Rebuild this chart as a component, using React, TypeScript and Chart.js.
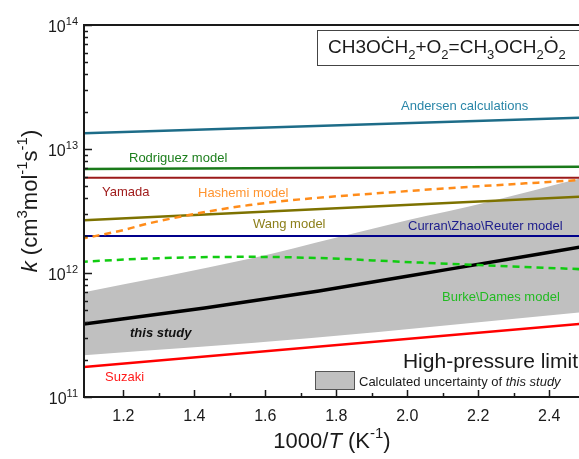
import React, { useEffect, useRef } from "react";
import { Chart, registerables } from "chart.js";
Chart.register(...registerables);

const FAMILY = '"Liberation Sans", Arial, Helvetica, sans-serif';

const X_MIN = 1.089;
const X_MAX = 2.484;
const Y_MIN = 1e11;
const Y_MAX = 1e14;

const xMajorTicks = [1.2, 1.4, 1.6, 1.8, 2.0, 2.2, 2.4];
const xMajorLabels = ["1.2", "1.4", "1.6", "1.8", "2.0", "2.2", "2.4"];
const xMinorTicks = [1.3, 1.5, 1.7, 1.9, 2.1, 2.3];
const yDecades = [11, 12, 13, 14];

// series (x = 1000/T, y = k)
const andersenX = [1.08, 2.5];
const andersenY = [1.34e13, 1.79e13];
const rodriguezX = [1.08, 2.5];
const rodriguezY = [6.9e12, 7.2e12];
const yamadaX = [1.08, 2.5];
const yamadaY = [5.85e12, 5.85e12];
const hashemiX = [1.08, 1.2, 1.276, 1.555, 2.003, 2.5];
const hashemiY = [1.88e12, 2.22e12, 2.53e12, 3.53e12, 4.58e12, 5.65e12];
const wangX = [1.08, 2.5];
const wangY = [2.66e12, 4.15e12];
const curranX = [1.08, 2.5];
const curranY = [1.99e12, 1.99e12];
const burkeX = [1.08, 1.276, 1.55, 1.75, 1.99, 2.2, 2.5];
const burkeY = [1.23e12, 1.31e12, 1.35e12, 1.32e12, 1.23e12, 1.16e12, 1.07e12];
const studyX = [1.08, 1.429, 1.751, 2.115, 2.5];
const studyY = [3.85e11, 5.22e11, 7.16e11, 1.07e12, 1.64e12];
const suzakiX = [1.08, 2.5];
const suzakiY = [1.74e11, 3.92e11];
const bandLowX = [1.08, 1.73, 2.5];
const bandLowY = [2.16e11, 2.99e11, 4.85e11];
const bandHighX = [1.08, 1.555, 1.807, 2.003, 2.227, 2.5];
const bandHighY = [6.9e11, 1.3e12, 1.95e12, 2.67e12, 3.74e12, 5.9e12];

const pts = (xs: number[], ys: number[]) => xs.map((x, i) => ({ x, y: ys[i] }));

type Seg = { t: string; sub?: boolean; sup?: boolean; it?: boolean; b?: boolean };

function segFont(seg: Seg, size: number) {
  const s = seg.sub || seg.sup ? Math.round(size * 0.68) : size;
  return `${seg.it ? "italic " : ""}${seg.b ? "bold " : ""}${s}px ${FAMILY}`;
}

function drawRich(
  ctx: CanvasRenderingContext2D,
  segs: Seg[],
  x: number,
  y: number,
  size: number,
  color: string,
  align: "left" | "right" | "center" = "left"
) {
  ctx.save();
  ctx.textBaseline = "alphabetic";
  ctx.textAlign = "left";
  let w = 0;
  for (const s of segs) {
    ctx.font = segFont(s, size);
    w += ctx.measureText(s.t).width;
  }
  let cx = align === "left" ? x : align === "right" ? x - w : x - w / 2;
  ctx.fillStyle = color;
  for (const s of segs) {
    ctx.font = segFont(s, size);
    const dy = s.sub ? size * 0.3 : s.sup ? -size * 0.45 : 0;
    ctx.fillText(s.t, cx, y + dy);
    cx += ctx.measureText(s.t).width;
  }
  ctx.restore();
}

const decorPlugin = {
  id: "decor",
  afterDraw(chart: any) {
    const ctx: CanvasRenderingContext2D = chart.ctx;
    const { left, right, top, bottom } = chart.chartArea;
    const xs = chart.scales.x;
    const ys = chart.scales.y;
    ctx.save();
    ctx.strokeStyle = "#1a1a1a";
    ctx.lineWidth = 2;
    ctx.beginPath();
    ctx.moveTo(left, top);
    ctx.lineTo(right + 2, top);
    ctx.moveTo(left, top - 1);
    ctx.lineTo(left, bottom);
    ctx.lineTo(right + 2, bottom);
    ctx.stroke();

    // y ticks (inside)
    ctx.lineWidth = 1.5;
    ctx.beginPath();
    for (const d of yDecades) {
      for (let m = 1; m <= 9; m++) {
        const v = m * Math.pow(10, d);
        if (v < Y_MIN * 0.999 || v > Y_MAX * 1.001) continue;
        const py = Math.round(ys.getPixelForValue(v)) + 0.5;
        const len = m === 1 ? 8 : 4;
        ctx.moveTo(left, py);
        ctx.lineTo(left + len, py);
      }
    }
    // x ticks (inside)
    for (const v of xMajorTicks) {
      const px = Math.round(xs.getPixelForValue(v)) + 0.5;
      ctx.moveTo(px, bottom);
      ctx.lineTo(px, bottom - 7);
    }
    for (const v of xMinorTicks) {
      const px = Math.round(xs.getPixelForValue(v)) + 0.5;
      ctx.moveTo(px, bottom);
      ctx.lineTo(px, bottom - 4);
    }
    ctx.stroke();

    // tick labels
    for (const d of yDecades) {
      const py = ys.getPixelForValue(Math.pow(10, d));
      drawRich(ctx, [{ t: "10" }, { t: String(d), sup: true }], 78, py + 7, 16, "#1a1a1a", "right");
    }
    xMajorTicks.forEach((v, i) => {
      const px = xs.getPixelForValue(v);
      drawRich(ctx, [{ t: xMajorLabels[i] }], px, bottom + 24, 16, "#1a1a1a", "center");
    });

    // axis titles
    drawRich(
      ctx,
      [{ t: "1000/" }, { t: "T", it: true }, { t: " (K" }, { t: "-1", sup: true }, { t: ")" }],
      332,
      448,
      22,
      "#1a1a1a",
      "center"
    );
    ctx.save();
    ctx.translate(37, 201);
    ctx.rotate(-Math.PI / 2);
    drawRich(
      ctx,
      [
        { t: "k", it: true },
        { t: " (cm" },
        { t: "3", sup: true },
        { t: "mol" },
        { t: "-1", sup: true },
        { t: "s" },
        { t: "-1", sup: true },
        { t: ")" },
      ],
      0,
      0,
      22,
      "#1a1a1a",
      "center"
    );
    ctx.restore();

    // reaction box
    ctx.fillStyle = "#ffffff";
    ctx.fillRect(317.5, 30.5, 270, 35);
    ctx.strokeStyle = "#444";
    ctx.lineWidth = 1;
    ctx.strokeRect(317.5, 30.5, 270, 35);
    drawRich(
      ctx,
      [
        { t: "CH3O\u010AH" },
        { t: "2", sub: true },
        { t: "+O" },
        { t: "2", sub: true },
        { t: "=CH" },
        { t: "3", sub: true },
        { t: "OCH" },
        { t: "2", sub: true },
        { t: "\u022E" },
        { t: "2", sub: true },
      ],
      328,
      53,
      19,
      "#1a1a1a",
      "left"
    );

    // series labels
    const lab = (t: string, x: number, y: number, c: string) =>
      drawRich(ctx, [{ t }], x, y + 5, 13, c, "left");
    lab("Andersen calculations", 401, 105, "#2a86a8");
    lab("Rodriguez model", 129, 157, "#1d7f1d");
    lab("Yamada", 102, 191, "#a01c1c");
    lab("Hashemi model", 198, 192, "#ff9430");
    lab("Wang model", 253, 223, "#8c7f1a");
    lab("Curran\\Zhao\\Reuter model", 408, 225, "#1c1c8c");
    lab("Burke\\Dames model", 442, 296, "#22bb22");
    lab("Suzaki", 105, 376, "#ff1a1a");
    drawRich(ctx, [{ t: "this study", it: true, b: true }], 130, 337, 13, "#111", "left");

    drawRich(ctx, [{ t: "High-pressure limit" }], 578, 368, 21, "#1a1a1a", "right");
    ctx.fillStyle = "#c0c0c0";
    ctx.fillRect(315.5, 371.5, 39, 18);
    ctx.strokeStyle = "#555";
    ctx.lineWidth = 1;
    ctx.strokeRect(315.5, 371.5, 39, 18);
    drawRich(
      ctx,
      [{ t: "Calculated uncertainty of " }, { t: "this study", it: true }],
      359,
      386,
      13,
      "#1a1a1a",
      "left"
    );
    ctx.restore();
  },
};

export default function App() {
  const ref = useRef<HTMLCanvasElement | null>(null);
  useEffect(() => {
    if (!ref.current) return;
    const line = (data: any, color: string, width: number, dash: number[] = [], curved = false) => ({
      data,
      borderColor: color,
      backgroundColor: color,
      borderWidth: width,
      borderDash: dash,
      pointRadius: 0,
      cubicInterpolationMode: curved ? "monotone" : "default",
      tension: curved ? 0.4 : 0,
      fill: false,
    });
    const chart = new Chart(ref.current, {
      type: "line",
      data: {
        datasets: [
          line(pts(andersenX, andersenY), "#1d6c88", 2.5),
          line(pts(rodriguezX, rodriguezY), "#1a7a1a", 2.5),
          line(pts(yamadaX, yamadaY), "#9b1a1a", 2),
          line(pts(hashemiX, hashemiY), "#ff8c1a", 2.5, [7, 5], true),
          line(pts(wangX, wangY), "#7d7200", 2.5),
          line(pts(curranX, curranY), "#00008b", 2),
          line(pts(burkeX, burkeY), "#11cc11", 2.5, [7, 5], true),
          line(pts(studyX, studyY), "#000000", 3.5, [], true),
          line(pts(suzakiX, suzakiY), "#ff0000", 2.5),
          {
            data: pts(bandLowX, bandLowY),
            borderColor: "rgba(0,0,0,0)",
            borderWidth: 0,
            pointRadius: 0,
            cubicInterpolationMode: "monotone",
            fill: false,
          },
          {
            data: pts(bandHighX, bandHighY),
            borderColor: "rgba(0,0,0,0)",
            backgroundColor: "#c0c0c0",
            borderWidth: 0,
            pointRadius: 0,
            cubicInterpolationMode: "monotone",
            fill: "-1",
          },
        ] as any,
      },
      options: {
        animation: false,
        responsive: false,
        devicePixelRatio: 1,
        layout: { padding: { left: 84, top: 25, right: 0, bottom: 62 } },
        plugins: { legend: { display: false }, tooltip: { enabled: false } },
        scales: {
          x: { type: "linear", min: X_MIN, max: X_MAX, display: false },
          y: { type: "logarithmic", min: Y_MIN, max: Y_MAX, display: false },
        },
      } as any,
      plugins: [decorPlugin],
    });
    return () => chart.destroy();
  }, []);
  return (
    <div style={{ position: "fixed", left: 0, top: 0, width: 579, height: 459, background: "#fff" }}>
      <canvas ref={ref} width={579} height={459} style={{ display: "block" }} />
    </div>
  );
}
